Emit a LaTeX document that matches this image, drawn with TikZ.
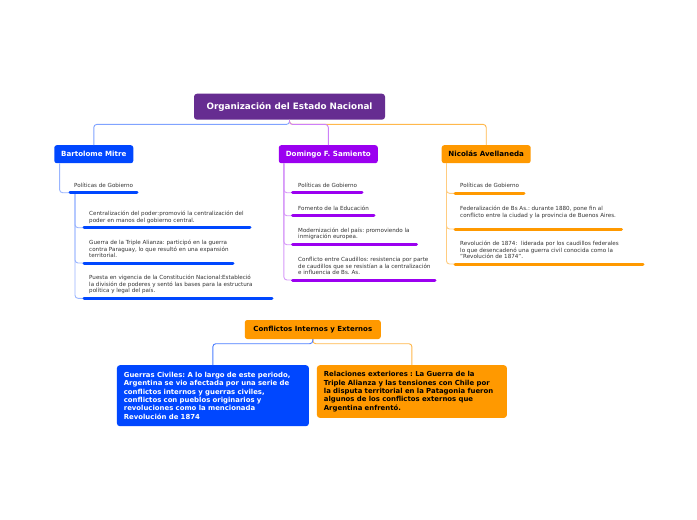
\documentclass[tikz,border=0pt]{standalone}
\usepackage{fontspec}
\setmainfont{DejaVu Sans}
\usetikzlibrary{positioning}
\definecolor{rootpurple}{HTML}{662D91}
\definecolor{mitreblue}{HTML}{0047FF}
\definecolor{sarmpurple}{HTML}{9B00F0}
\definecolor{avorange}{HTML}{FF9900}
\definecolor{notegray}{HTML}{333333}
\frenchspacing

\begin{document}
\begin{tikzpicture}[x=1pt, y=-1pt,
                root/.style={fill=rootpurple, rounded corners=3pt, minimum width=191pt, minimum height=26pt, text=white, font=\fontsize{8.8}{10}\selectfont\bfseries},
                topic/.style={rounded corners=2.5pt, minimum height=18pt, inner sep=0pt, font=\fontsize{7.1}{8}\selectfont\bfseries},
                note/.style={anchor=north west, inner sep=0pt, align=left, text=notegray, font=\fontsize{5.6}{6.6}\selectfont},
                bigbox/.style={rounded corners=3pt, anchor=north west, inner xsep=7pt, align=left, font=\fontsize{6.9}{8.4}\selectfont\bfseries},
                uline/.style={line width=3pt, line cap=round},
                link/.style={line width=0.9pt, rounded corners=3pt}
            ]

            \fill[white] (0,0) rectangle (697,520);

            \node[root] (estado) at (289.5,106.7) {Organización del Estado Nacional};

            \node[topic, fill=mitreblue, text=white, minimum width=79pt] (mitre) at (93.8,154.2) {Bartolome Mitre};
            \node[topic, fill=sarmpurple, text=white, minimum width=99pt] (sarmiento) at (328.3,154.2) {Domingo F. Samiento};
            \node[topic, fill=avorange, minimum width=89pt] (avellaneda) at (486.2,154.2) {Nicolás Avellaneda};

            \draw[link, mitreblue!50] (estado.south) -- ++(0,4.5) -| (mitre.north);
            \draw[link, avorange!70] (estado.south) -- ++(0,4.5) -| (avellaneda.north);
            \draw[link, sarmpurple!50] (estado.south) -- ++(0,4.5) -| (sarmiento.north);

            % Bartolome Mitre
            \node[note] (mpol) at (74,183) {Políticas de Gobierno};
            \node[note] (mcen) at (89,211) {Centralización del poder:promovió la centralización del\\poder en manos del gobierno central.};
            \node[note] (mgue) at (89,240) {Guerra de la Triple Alianza: participó en la guerra\\contra Paraguay, lo que resultó en una expansión\\territorial.};
            \node[note] (mcon) at (89,275) {Puesta en vigencia de la Constitución Nacional:Estableció\\la división de poderes y sentó las bases para la estructura\\política y legal del país.};

            \coordinate (mpolA) at (70,192.7);   \coordinate (mpolB) at (137,192.7);
            \coordinate (mcenA) at (84,227.7);   \coordinate (mcenB) at (250,227.7);
            \coordinate (mgueA) at (84,263);     \coordinate (mgueB) at (233,263);
            \coordinate (mconA) at (84,298.3);   \coordinate (mconB) at (272,298.3);
            \coordinate (mfork) at (75,192.7);

            \draw[link, mitreblue!40] ([xshift=5.5pt]mitre.south west) |- (mpolA);
            \draw[link, mitreblue!40] (mfork) |- (mcenA);
            \draw[link, mitreblue!40] (mfork) |- (mgueA);
            \draw[link, mitreblue!40] (mfork) |- (mconA);

            \draw[uline, mitreblue] (mpolA) -- (mpolB);
            \draw[uline, mitreblue] (mcenA) -- (mcenB);
            \draw[uline, mitreblue] (mgueA) -- (mgueB);
            \draw[uline, mitreblue] (mconA) -- (mconB);

            % Domingo F. Samiento
            \node[note] (spol) at (298,183) {Políticas de Gobierno};
            \node[note] (sedu) at (298,206) {Fomento de la Educación};
            \node[note] (smod) at (298,227.5) {Modernización del país: promoviendo la\\inmigración europea.};
            \node[note] (scau) at (298,257) {Conflicto entre Caudillos: resistencia por parte\\de caudillos que se resistían a la centralización\\e influencia de Bs. As.};

            \coordinate (spolA) at (292.5,192.7); \coordinate (spolB) at (362,192.7);
            \coordinate (seduA) at (292.5,215.7); \coordinate (seduB) at (374,215.7);
            \coordinate (smodA) at (292.5,244.7); \coordinate (smodB) at (416.5,244.7);
            \coordinate (scauA) at (292.5,280);   \coordinate (scauB) at (435,280);

            \draw[link, sarmpurple!40] ([xshift=5.3pt]sarmiento.south west) |- (spolA);
            \draw[link, sarmpurple!40] ([xshift=5.3pt]sarmiento.south west) |- (seduA);
            \draw[link, sarmpurple!40] ([xshift=5.3pt]sarmiento.south west) |- (smodA);
            \draw[link, sarmpurple!40] ([xshift=5.3pt]sarmiento.south west) |- (scauA);

            \draw[uline, sarmpurple] (spolA) -- (spolB);
            \draw[uline, sarmpurple] (seduA) -- (seduB);
            \draw[uline, sarmpurple] (smodA) -- (smodB);
            \draw[uline, sarmpurple] (scauA) -- (scauB);

            % Nicolas Avellaneda
            \node[note] (apol) at (460,183) {Políticas de Gobierno};
            \node[note] (afed) at (460,206) {Federalización de Bs As.: durante 1880, pone fin al\\conflicto entre la ciudad y la provincia de Buenos Aires.};
            \node[note] (arev) at (460,241) {Revolución de 1874:\ \ liderada por los caudillos federales\\lo que desencadenó una guerra civil conocida como la\\"Revolución de 1874".};

            \coordinate (apolA) at (455,193.3); \coordinate (apolB) at (524,193.3);
            \coordinate (afedA) at (455,229);   \coordinate (afedB) at (621.5,229);
            \coordinate (arevA) at (455,264);   \coordinate (arevB) at (643,264);

            \draw[link, avorange!50] ([xshift=5pt]avellaneda.south west) |- (apolA);
            \draw[link, avorange!50] ([xshift=5pt]avellaneda.south west) |- (afedA);
            \draw[link, avorange!50] ([xshift=5pt]avellaneda.south west) |- (arevA);

            \draw[uline, avorange] (apolA) -- (apolB);
            \draw[uline, avorange] (afedA) -- (afedB);
            \draw[uline, avorange] (arevA) -- (arevB);

            % Conflictos
            \node[topic, fill=avorange, minimum width=136pt, minimum height=19pt, font=\fontsize{7}{8}\selectfont\bfseries] (conflictos) at (312.8,329.5) {Conflictos Internos y Externos};

            \node[bigbox, fill=mitreblue, text=white, minimum width=192pt, minimum height=61pt, text width=178pt] (civiles) at (116.7,365) {Guerras Civiles: A lo largo de este periodo,\\Argentina se vio afectada por una serie de\\conflictos internos y guerras civiles,\\conflictos con pueblos originarios y\\revoluciones como la mencionada\\Revolución de 1874};
            \node[bigbox, fill=avorange, minimum width=190pt, minimum height=52.7pt, text width=176pt] (exteriores) at (316.7,365) {Relaciones exteriores : La Guerra de la\\Triple Alianza y las tensiones con Chile por\\la disputa territorial en la Patagonia fueron\\algunos de los conflictos externos que\\Argentina enfrentó.};

            \draw[link, avorange!70] (conflictos.south) -- ++(0,4.5) -| (exteriores.north);
            \draw[link, mitreblue!70] (conflictos.south) -- ++(0,4.5) -| (civiles.north);

        \end{tikzpicture}
\end{document}
